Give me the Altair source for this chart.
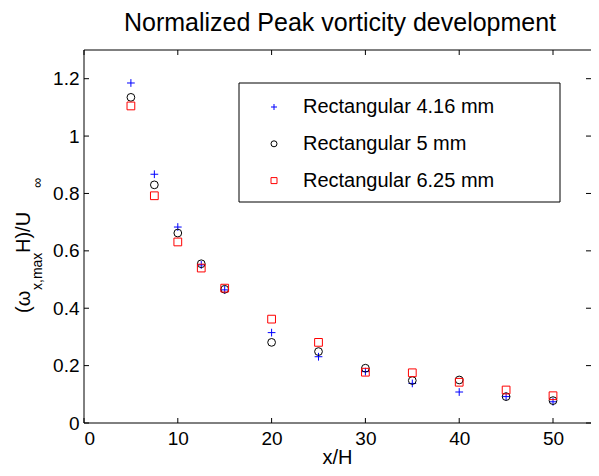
import altair as alt
import pandas as pd

# ---- data ----
x_pos = [5, 7.5, 10, 12.5, 15, 20, 25, 30, 35, 40, 45, 50]
y_416 = [1.185, 0.867, 0.683, 0.551, 0.464, 0.315, 0.231, 0.179, 0.138, 0.108, 0.092, 0.074]
y_5 = [1.135, 0.830, 0.662, 0.555, 0.466, 0.281, 0.249, 0.191, 0.148, 0.150, 0.092, 0.078]
y_625 = [1.105, 0.792, 0.631, 0.540, 0.470, 0.362, 0.281, 0.177, 0.175, 0.142, 0.115, 0.095]
series = ["Rectangular 4.16 mm", "Rectangular 5 mm", "Rectangular 6.25 mm"]
colors = ["#0000ff", "#000000", "#ff0000"]
shapes = ["M-1,0L1,0M0,-1L0,1", "circle", "square"]
x_ticks = [0, 10, 20, 30, 40, 50]
y_ticks = [0, 0.2, 0.4, 0.6, 0.8, 1.0, 1.2]
x_max = 54.05   # the reference's axis runs to 55, just past the picture's right edge
y_max = 1.3

FONT = "Liberation Sans"
W, H = 507, 373

rows = []
for name, ys in zip(series, [y_416, y_5, y_625]):
    for xv, yv in zip(x_pos, ys):
        rows.append({"x": xv, "y": yv, "series": name})
df = pd.DataFrame(rows)

xscale = alt.Scale(domain=[0, x_max], nice=False, zero=False)
yscale = alt.Scale(domain=[0, y_max], nice=False, zero=False)
xaxis = alt.Axis(values=x_ticks, format="d", grid=False, ticks=False, tickSize=0,
                 domain=False, labelPadding=6, labelFontSize=19, labelFont=FONT,
                 labelColor="black", title=None)
yaxis = alt.Axis(values=y_ticks, format="~g", grid=False, ticks=False, tickSize=0,
                 domain=False, labelPadding=5, labelFontSize=19, labelFont=FONT,
                 labelColor="black", title=None)

leg = alt.Legend(orient="none", legendX=180, legendY=47, title=None,
                 labelFontSize=20, labelFont=FONT, labelColor="black",
                 symbolSize=36, symbolStrokeWidth=1, rowPadding=16.8,
                 labelOffset=19, padding=0, labelLimit=400)

one = pd.DataFrame({"k": [0]})

box = alt.Chart(one).mark_rect(fill="white", stroke="black", strokeWidth=1).encode(
    x=alt.value(155), x2=alt.value(476), y=alt.value(33), y2=alt.value(152))

border_top = alt.Chart(one).mark_rule(color="black", strokeWidth=1).encode(
    x=alt.value(0), x2=alt.value(W), y=alt.value(0))
border_bot = alt.Chart(one).mark_rule(color="black", strokeWidth=1).encode(
    x=alt.value(0), x2=alt.value(W), y=alt.value(H))
border_left = alt.Chart(one).mark_rule(color="black", strokeWidth=1).encode(
    x=alt.value(0), y=alt.value(0), y2=alt.value(H))

points = alt.Chart(df).mark_point(filled=False, size=60, strokeWidth=1, opacity=1).encode(
    x=alt.X("x:Q", scale=xscale, axis=xaxis),
    y=alt.Y("y:Q", scale=yscale, axis=yaxis),
    color=alt.Color("series:N", scale=alt.Scale(domain=series, range=colors), legend=leg),
    shape=alt.Shape("series:N", scale=alt.Scale(domain=series, range=shapes), legend=leg),
)

xt = pd.DataFrame({"x": x_ticks})
yt = pd.DataFrame({"y": y_ticks})
tick_b = alt.Chart(xt).mark_rule(color="black", strokeWidth=1).encode(
    x=alt.X("x:Q", scale=xscale, axis=xaxis), y=alt.value(H), y2=alt.value(H - 5))
tick_t = alt.Chart(xt).mark_rule(color="black", strokeWidth=1).encode(
    x=alt.X("x:Q", scale=xscale, axis=xaxis), y=alt.value(0), y2=alt.value(5))
tick_l = alt.Chart(yt).mark_rule(color="black", strokeWidth=1).encode(
    y=alt.Y("y:Q", scale=yscale, axis=yaxis), x=alt.value(0), x2=alt.value(5))
tick_r = alt.Chart(yt).mark_rule(color="black", strokeWidth=1).encode(
    y=alt.Y("y:Q", scale=yscale, axis=yaxis), x=alt.value(W - 5), x2=alt.value(W))


def label(text, xpx, ypx, size, angle=0, align="left"):
    return alt.Chart(pd.DataFrame({"t": [text]})).mark_text(
        angle=angle, align=align, baseline="alphabetic", fontSize=size, font=FONT, color="black"
    ).encode(x=alt.value(xpx), y=alt.value(ypx), text="t:N")


ytitle = [
    label("(ω", -54, 263, 20, 270),
    label("x,max", -42, 240, 14, 270),
    label("H)/U", -54, 203, 20, 270),
    label("∞", -42, 138, 14, 270),
]
title = label("Normalized Peak vorticity development", 256, -19, 25, 0, "center")
xtitle = label("x/H", 253.5, H + 41, 20, 0, "center")

chart = alt.layer(box, border_top, border_bot, border_left, tick_b, tick_t, tick_l, tick_r,
                  *ytitle, title, xtitle, points).properties(
    width=W, height=H,
    autosize=alt.AutoSizeParams(type="none"),
    padding={"left": 76, "top": 42, "right": 0, "bottom": 45},
).configure_view(strokeWidth=0).configure_axis(grid=False)

chart.save("out.html", embed_options={"renderer": "svg", "actions": False})
